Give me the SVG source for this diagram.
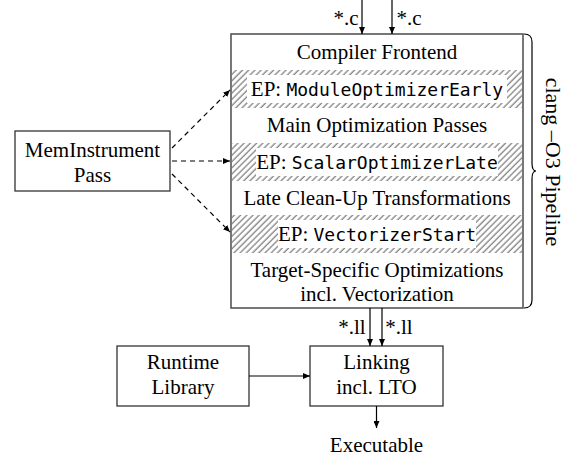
<svg xmlns="http://www.w3.org/2000/svg" width="575" height="461" viewBox="0 0 575 461">
<style>
.t{font-family:"Liberation Serif","Times New Roman",serif;font-size:21px;fill:#000;text-anchor:middle}
.m{font-family:"DejaVu Sans Mono","Liberation Mono",monospace;font-size:18px}
.box{fill:#fff;stroke:#333;stroke-width:1.3}
.main{fill:none;stroke:#555;stroke-width:1.6}
.ln{stroke:#000;stroke-width:1.2;fill:none}
.dash{stroke:#000;stroke-width:1.2;fill:none;stroke-dasharray:5 4}
.hb{fill:url(#hatch);stroke:none}
.wb{fill:#fff;stroke:none}
</style>
<defs>
<pattern id="hatch" patternUnits="userSpaceOnUse" width="4.4" height="4.4" patternTransform="rotate(45)">
<line x1="1" y1="0" x2="1" y2="4.4" stroke="#333" stroke-width="0.8"/>
</pattern>
<marker id="ah" markerWidth="8" markerHeight="6" refX="7" refY="3" orient="auto" markerUnits="userSpaceOnUse">
<path d="M0,0 L7,3 L0,6 Z" fill="#000"/>
</marker>
</defs>

<g id="pipeline">
<rect x="231" y="34" width="292" height="274" fill="#fff"/>
<rect class="hb" x="232" y="70" width="290" height="38"/>
<rect class="hb" x="232" y="143" width="290" height="38"/>
<rect class="hb" x="232" y="215" width="290" height="38"/>
<rect class="wb" x="247" y="75" width="260" height="28"/>
<rect class="wb" x="256" y="148" width="242" height="28"/>
<rect class="wb" x="278" y="220" width="198" height="28"/>
<rect class="main" x="231" y="34" width="292" height="274"/>
<text class="t" x="377" y="59">Compiler Frontend</text>
<text class="t" x="377" y="96">EP: <tspan class="m">ModuleOptimizerEarly</tspan></text>
<text class="t" x="377" y="132">Main Optimization Passes</text>
<text class="t" x="377" y="169">EP: <tspan class="m">ScalarOptimizerLate</tspan></text>
<text class="t" x="377" y="205">Late Clean-Up Transformations</text>
<text class="t" x="377" y="241">EP: <tspan class="m">VectorizerStart</tspan></text>
<text class="t" x="377" y="277">Target-Specific Optimizations</text>
<text class="t" x="377" y="301">incl. Vectorization</text>
</g>

<g id="brace">
<path class="ln" d="M524,34 Q532,34 532,42 L532,163 Q532,171 536,171 Q532,171 532,179 L532,300 Q532,308 524,308"/>
<text class="t" transform="translate(546,162) rotate(90)" style="font-size:22px">clang –O3 Pipeline</text>
</g>

<g id="meminstrument">
<rect class="box" x="15" y="131" width="155" height="60"/>
<text class="t" x="92.5" y="157">MemInstrument</text>
<text class="t" x="92.5" y="182">Pass</text>
</g>

<g id="runtime">
<rect class="box" x="117" y="346" width="132" height="60"/>
<text class="t" x="183" y="369">Runtime</text>
<text class="t" x="183" y="394">Library</text>
</g>

<g id="linking">
<rect class="box" x="310" y="346" width="133" height="60"/>
<text class="t" x="376.5" y="369">Linking</text>
<text class="t" x="376.5" y="394">incl. LTO</text>
</g>

<g id="executable">
<text class="t" x="376.5" y="452">Executable</text>
</g>

<g id="connectors">
<line class="ln" x1="362" y1="0" x2="362" y2="34" marker-end="url(#ah)"/>
<line class="ln" x1="392" y1="0" x2="392" y2="34" marker-end="url(#ah)"/>
<text class="t" x="346" y="25">*.c</text>
<text class="t" x="409" y="25">*.c</text>
<line class="dash" x1="172" y1="148" x2="230" y2="90" marker-end="url(#ah)"/>
<line class="dash" x1="172" y1="161" x2="230" y2="161" marker-end="url(#ah)"/>
<line class="dash" x1="172" y1="174" x2="230" y2="232" marker-end="url(#ah)"/>
<line class="ln" x1="370" y1="308" x2="370" y2="346" marker-end="url(#ah)"/>
<line class="ln" x1="382" y1="308" x2="382" y2="346" marker-end="url(#ah)"/>
<text class="t" x="352" y="334">*.ll</text>
<text class="t" x="399" y="334">*.ll</text>
<line class="ln" x1="249" y1="376" x2="310" y2="376" marker-end="url(#ah)"/>
<line class="ln" x1="376.5" y1="406" x2="376.5" y2="428" marker-end="url(#ah)"/>
</g>
</svg>
